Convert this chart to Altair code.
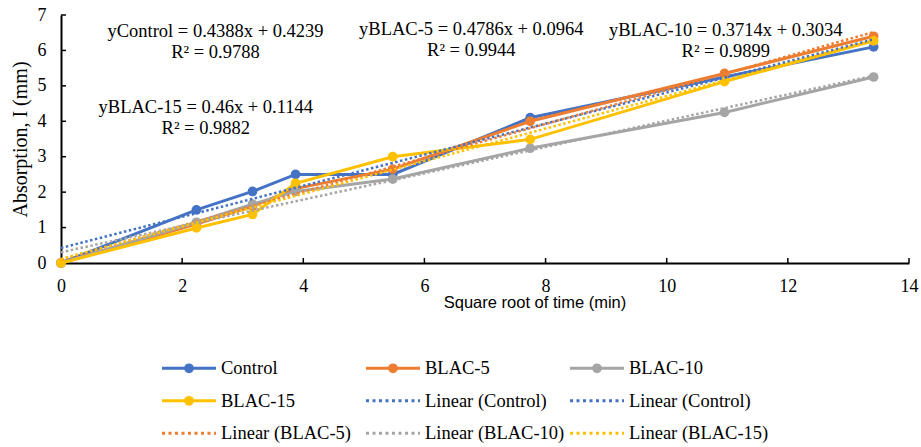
import altair as alt
import pandas as pd

# ---------------- data ----------------
x_sqrt_time = [0, 2.236, 3.162, 3.873, 5.477, 7.746, 10.954, 13.416]
series_names = ["Control", "BLAC-5", "BLAC-10", "BLAC-15"]
series_colors = ["#4472C4", "#ED7D31", "#A5A5A5", "#FFC000"]
control = [0, 1.5, 2.02, 2.5, 2.5, 4.1, 5.25, 6.1]
blac5 = [0, 1.1, 1.6, 2.1, 2.65, 4.0, 5.35, 6.4]
blac10 = [0, 1.15, 1.66, 2.02, 2.37, 3.24, 4.25, 5.25]
blac15 = [0, 0.99, 1.37, 2.25, 3.0, 3.49, 5.12, 6.27]
series_values = [control, blac5, blac10, blac15]

trend_slopes = [0.4388, 0.4786, 0.3714, 0.46]
trend_intercepts = [0.4239, 0.0964, 0.3034, 0.1144]
trend_r2 = [0.9788, 0.9944, 0.9899, 0.9882]

x_tick_values = [0, 2, 4, 6, 8, 10, 12, 14]
y_tick_values = [0, 1, 2, 3, 4, 5, 6, 7]

legend_labels = ["Control", "BLAC-5", "BLAC-10", "BLAC-15",
                 "Linear (Control)", "Linear (Control)",
                 "Linear (BLAC-5)", "Linear (BLAC-10)", "Linear (BLAC-15)"]
legend_colors = ["#4472C4", "#ED7D31", "#A5A5A5", "#FFC000",
                 "#4472C4", "#4472C4", "#ED7D31", "#A5A5A5", "#FFC000"]
legend_kinds = ["series"] * 4 + ["trend"] * 5

# ---------------- layout ----------------
W, H = 848, 248
LEFT, TOP = 61, 15
SERIF = "Liberation Serif"
SANS = "Liberation Sans"
# annotation centres (px, relative to plot origin), order matches series_names
annotation_px = [(154.5, 16.2), (410.3, 13.8), (664.8, 15.4), (144.8, 91.7)]

# ---------------- tables ----------------
rows = []
for name, color, vals in zip(series_names, series_colors, series_values):
    for i, (xv, yv) in enumerate(zip(x_sqrt_time, vals)):
        rows.append({"series": name, "color": color, "x": xv, "y": yv, "order": i})
df = pd.DataFrame(rows)

trows = []
xmin, xmax = min(x_sqrt_time), max(x_sqrt_time)
for name, color, a, b in zip(series_names, series_colors, trend_slopes, trend_intercepts):
    for xv in (xmin, xmax):
        trows.append({"series": name, "color": color, "x": xv, "y": a * xv + b})
tdf = pd.DataFrame(trows)

leg = pd.DataFrame({
    "label": legend_labels,
    "color": legend_colors,
    "kind": legend_kinds,
    "idx": list(range(len(legend_labels))),
})

xs = alt.Scale(domain=[0, 14], nice=False, zero=False)
ys = alt.Scale(domain=[0, 7], nice=False, zero=False)

x_axis = alt.Axis(values=x_tick_values, format="d", ticks=False, grid=False,
                  labelFont=SERIF, labelFontSize=18, labelColor="black",
                  labelPadding=14, labelFlush=False, labelOverlap=False,
                  domainColor="black", domainWidth=2,
                  title="Square root of time (min)", titleFont=SANS,
                  titleFontSize=16.5, titleFontWeight="normal", titleColor="black",
                  titleX=473.5, titleY=39.5, titleAlign="center",
                  titleBaseline="middle")
y_axis = alt.Axis(values=y_tick_values, tickCount=8, format="d", ticks=False, grid=False,
                  labelFont=SERIF, labelFontSize=18, labelColor="black",
                  labelPadding=15, labelFlush=False, labelOverlap=False,
                  domainColor="black", domainWidth=2,
                  title="Absorption, I (mm)", titleFont=SERIF,
                  titleFontSize=20, titleFontWeight="normal", titleColor="black",
                  titleX=-40.3, titleY=H / 2, titleAlign="center",
                  titleBaseline="middle", titleAngle=270)

# each series: line then markers (series drawn in order, like the original)
series_layers = []
for name in series_names:
    sub = alt.Chart(df).transform_filter(alt.datum.series == name)
    series_layers.append(sub.mark_line(strokeWidth=3).encode(
        x=alt.X("x:Q", scale=xs, axis=x_axis),
        y=alt.Y("y:Q", scale=ys, axis=y_axis),
        color=alt.Color("color:N", scale=None),
        order="order:Q",
    ))
    series_layers.append(sub.mark_circle(size=95, opacity=1).encode(
        x=alt.X("x:Q", scale=xs, axis=x_axis),
        y=alt.Y("y:Q", scale=ys, axis=y_axis),
        color=alt.Color("color:N", scale=None),
    ))

trends = alt.Chart(tdf).mark_line(strokeWidth=2.5, strokeDash=[2.5, 2.5]).encode(
    x=alt.X("x:Q", scale=xs, axis=x_axis),
    y=alt.Y("y:Q", scale=ys, axis=y_axis),
    color=alt.Color("color:N", scale=None),
    detail="series:N",
)

# inward tick marks
xticks = alt.Chart(pd.DataFrame({"x": x_tick_values[1:]})).mark_rule(
    color="black", strokeWidth=1.5).encode(
    x=alt.X("x:Q", scale=xs, axis=x_axis), y=alt.value(H), y2=alt.value(H - 5))
yticks = alt.Chart(pd.DataFrame({"y": y_tick_values[1:]})).mark_rule(
    color="black", strokeWidth=1.5).encode(
    y=alt.Y("y:Q", scale=ys, axis=y_axis), x=alt.value(0), x2=alt.value(5))

# equation annotations
annots = []
for name, a, b, r2, (px, py) in zip(series_names, trend_slopes, trend_intercepts,
                                     trend_r2, annotation_px):
    txt = f"y{name} = {a:g}x + {b:g}\nR² = {r2:g}"
    annots.append(
        alt.Chart(pd.DataFrame({"t": [txt]})).mark_text(
            font=SERIF, fontSize=18.5, color="black", lineBreak="\n",
            lineHeight=21, align="center", baseline="middle").encode(
            text="t:N", x=alt.value(px), y=alt.value(py))
    )

# custom legend (3 columns x 3 rows) below the plot
COL0, COLSTEP, ROW0, ROWSTEP = 101, 204, 353.3, 32.5
legbase = alt.Chart(leg).transform_calculate(
    col="datum.idx % 3",
    row="floor(datum.idx / 3)",
).transform_calculate(
    lx=f"{COL0} + datum.col * {COLSTEP}",
    ly=f"{ROW0} + datum.row * {ROWSTEP}",
).transform_calculate(
    lx2="datum.lx + 54",
    lmid="datum.lx + 27",
    ltx="datum.lx + 59",
)
leg_solid = legbase.transform_filter("datum.kind == 'series'").mark_rule(
    strokeWidth=3).encode(
    x=alt.X("lx:Q", scale=None, axis=None), x2="lx2:Q",
    y=alt.Y("ly:Q", scale=None, axis=None),
    color=alt.Color("color:N", scale=None))
leg_dots = legbase.transform_filter("datum.kind == 'series'").mark_circle(
    size=95, opacity=1).encode(
    x=alt.X("lmid:Q", scale=None, axis=None),
    y=alt.Y("ly:Q", scale=None, axis=None),
    color=alt.Color("color:N", scale=None))
leg_dash = legbase.transform_filter("datum.kind == 'trend'").mark_rule(
    strokeWidth=3, strokeDash=[3, 3.5]).encode(
    x=alt.X("lx:Q", scale=None, axis=None), x2="lx2:Q",
    y=alt.Y("ly:Q", scale=None, axis=None),
    color=alt.Color("color:N", scale=None))
leg_text = legbase.mark_text(font=SERIF, fontSize=18.5, color="black",
                             align="left", baseline="middle").encode(
    x=alt.X("ltx:Q", scale=None, axis=None),
    y=alt.Y("ly:Q", scale=None, axis=None),
    text="label:N")

chart = alt.layer(
    *series_layers, trends, xticks, yticks, *annots,
    leg_solid, leg_dots, leg_dash, leg_text,
).properties(
    width=W, height=H,
    autosize=alt.AutoSizeParams(type="none"),
    padding={"left": LEFT, "top": TOP, "right": 921 - LEFT - W, "bottom": 447 - TOP - H},
    background="white",
).configure_view(stroke=None).configure_axis(labelOverlap=False)

chart.save("out.html", embed_options={"renderer": "svg", "actions": False})
